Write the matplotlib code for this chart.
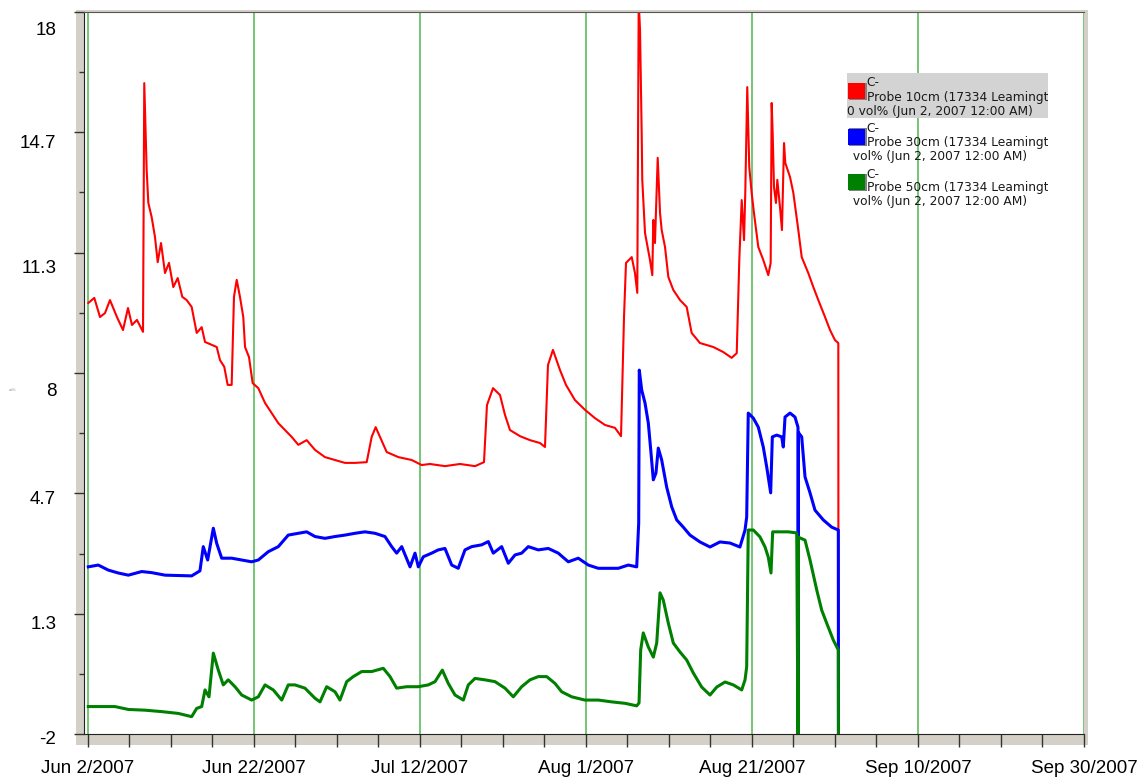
import datetime as dt

import numpy as np
import matplotlib
matplotlib.use("Agg")
import matplotlib.pyplot as plt
from matplotlib.patches import Rectangle
from matplotlib.ticker import FixedLocator, MultipleLocator, FuncFormatter
from matplotlib.transforms import ScaledTranslation, Bbox

START = dt.date(2007, 6, 2)

# x = days since Jun 2 2007 00:00, y = vol%
red_days = [0.04, 0.76, 1.45, 2.05, 2.65, 3.49, 4.22, 4.82, 5.30, 5.90,
            6.63, 6.78, 6.95, 7.07, 7.27, 7.67, 8.07, 8.40, 8.80, 9.28,
            9.76, 10.28, 10.81, 11.36, 11.89, 12.49, 13.10, 13.70, 14.10, 14.90,
            15.51, 15.90, 16.42, 16.83, 17.31, 17.59, 17.92, 18.31, 18.71, 18.92,
            19.40, 19.84, 20.52, 21.33, 22.13, 22.93, 23.73, 24.54, 25.34, 26.35,
            27.35, 28.55, 29.76, 30.96, 32.17, 33.58, 34.18, 34.66, 35.18, 35.99,
            37.39, 39.00, 40.20, 41.20, 43.01, 44.82, 46.63, 47.71, 48.07, 48.80,
            49.64, 50.24, 50.84, 52.05, 53.25, 54.46, 55.06, 55.42, 56.02, 56.87,
            57.59, 58.67, 59.88, 61.08, 62.29, 63.49, 64.22, 64.58, 64.82, 65.51,
            65.90, 66.18, 66.35, 66.51, 66.71, 66.78, 67.11, 67.71, 67.99, 68.11,
            68.31, 68.64, 68.92, 69.12, 69.52, 69.92, 70.52, 71.33, 72.13, 72.73,
            73.73, 75.34, 76.54, 77.55, 78.16, 78.47, 78.76, 79.04, 79.19, 79.43,
            79.60, 79.67, 79.96, 80.24, 80.76, 81.36, 81.96, 82.25, 82.37, 82.49,
            82.65, 82.89, 83.05, 83.37, 83.61, 83.86, 84.01, 84.58, 84.98, 85.58,
            85.99, 86.78, 87.39, 87.99, 88.80, 89.40, 90.00, 90.40, 90.42]
red_vals = [9.94, 10.08, 9.55, 9.66, 10.02, 9.55, 9.19, 9.80, 9.33, 9.47,
            9.14, 16.03, 14.65, 13.62, 12.71, 12.32, 11.77, 11.07, 11.60, 10.77,
            11.05, 10.38, 10.63, 10.11, 10.02, 9.83, 9.11, 9.27, 8.86, 8.78,
            8.72, 8.36, 8.17, 7.67, 7.67, 10.11, 10.58, 10.11, 9.55, 8.72,
            8.44, 7.72, 7.58, 7.17, 6.89, 6.61, 6.42, 6.23, 6.01, 6.14,
            5.87, 5.67, 5.59, 5.51, 5.51, 5.53, 6.23, 6.50, 6.23, 5.81,
            5.67, 5.59, 5.45, 5.48, 5.42, 5.48, 5.42, 5.53, 7.11, 7.58,
            7.39, 6.84, 6.42, 6.25, 6.14, 6.06, 5.95, 8.22, 8.64, 8.08,
            7.67, 7.25, 6.98, 6.75, 6.56, 6.48, 6.25, 9.55, 11.05, 11.21,
            10.77, 10.22, 18.3, 17.50, 14.65, 13.35, 11.88, 11.13, 10.71, 12.24,
            11.60, 13.96, 12.43, 11.96, 11.49, 10.66, 10.30, 10.02, 9.83, 9.11,
            8.83, 8.72, 8.58, 8.42, 8.55, 11.13, 12.79, 11.68, 12.99, 15.92,
            14.37, 13.71, 12.99, 12.43, 11.49, 11.13, 10.71, 11.05, 15.48, 14.65,
            13.15, 12.71, 13.35, 12.60, 11.96, 14.37, 13.82, 13.43, 12.99, 11.96,
            11.21, 10.77, 10.38, 10.02, 9.55, 9.19, 8.91, 8.83, -3.0]

blue_days = [0.04, 1.24, 2.45, 3.65, 4.86, 6.47, 7.67, 9.28, 10.88, 12.49,
             13.49, 13.89, 14.42, 15.10, 15.51, 16.11, 17.31, 18.52, 19.72, 20.52,
             21.72, 22.93, 24.13, 25.34, 26.35, 27.35, 28.55, 29.76, 30.96, 32.17,
             33.37, 34.58, 35.78, 36.59, 37.19, 37.80, 38.80, 39.40, 39.80, 40.40,
             41.41, 42.20, 43.01, 43.82, 44.61, 45.42, 46.23, 47.43, 48.23, 48.83,
             49.84, 50.64, 51.45, 52.25, 53.05, 54.25, 55.46, 56.66, 57.87, 59.07,
             60.28, 61.48, 62.69, 63.89, 65.10, 66.11, 66.35, 66.42, 66.71, 67.11,
             67.51, 67.80, 68.11, 68.43, 68.71, 69.12, 69.72, 70.33, 70.93, 71.72,
             72.53, 73.73, 74.94, 76.14, 77.35, 78.55, 79.16, 79.36, 79.55, 80.16,
             80.76, 81.36, 81.77, 82.25, 82.45, 82.98, 83.58, 83.77, 83.98, 84.58,
             85.18, 85.54, 85.56, 85.60, 85.99, 86.39, 86.99, 87.59, 88.59, 89.60,
             90.40, 90.42]
blue_vals = [2.63, 2.68, 2.54, 2.46, 2.40, 2.50, 2.47, 2.40, 2.39, 2.38,
             2.52, 3.19, 2.82, 3.70, 3.28, 2.87, 2.87, 2.82, 2.77, 2.82,
             3.05, 3.19, 3.51, 3.56, 3.60, 3.47, 3.42, 3.47, 3.51, 3.56,
             3.60, 3.56, 3.47, 3.19, 3.01, 3.19, 2.63, 3.01, 2.63, 2.91,
             3.01, 3.10, 3.14, 2.68, 2.59, 3.10, 3.19, 3.24, 3.33, 3.01,
             3.19, 2.73, 2.96, 3.01, 3.19, 3.10, 3.14, 3.01, 2.77, 2.87,
             2.68, 2.59, 2.59, 2.59, 2.68, 2.63, 3.84, 8.08, 7.53, 7.17,
             6.61, 5.87, 5.04, 5.23, 5.92, 5.59, 4.84, 4.29, 3.93, 3.73,
             3.51, 3.32, 3.18, 3.32, 3.29, 3.18, 3.65, 4.01, 6.89, 6.75,
             6.50, 5.95, 5.40, 4.68, 6.23, 6.28, 6.23, 5.95, 6.78, 6.89,
             6.78, 6.50, -3.0, 6.35, 6.23, 5.12, 4.68, 4.20, 3.93, 3.73,
             3.65, -3.0]

green_days = [0.04, 1.65, 3.25, 4.86, 6.87, 8.88, 10.88, 12.49, 13.10, 13.70,
              14.10, 14.58, 15.10, 15.70, 16.30, 16.90, 17.71, 18.52, 19.72, 20.52,
              21.33, 22.33, 23.34, 24.13, 24.94, 26.14, 27.35, 27.95, 28.76, 29.76,
              30.36, 31.17, 31.96, 32.98, 34.18, 35.58, 36.39, 37.19, 38.40, 39.80,
              41.00, 41.81, 42.69, 43.41, 44.22, 45.22, 45.82, 46.63, 47.83, 49.04,
              50.24, 51.24, 52.25, 53.25, 54.25, 55.27, 56.27, 57.07, 58.28, 59.88,
              61.48, 63.10, 64.70, 66.11, 66.39, 66.59, 66.90, 67.51, 68.11, 68.52,
              68.92, 69.31, 69.92, 70.52, 71.33, 72.13, 72.93, 73.94, 74.94, 75.75,
              76.75, 77.75, 78.76, 79.16, 79.36, 79.55, 80.16, 80.96, 81.57, 81.96,
              82.29, 82.49, 83.37, 84.37, 85.39, 85.56, 85.60, 86.39, 86.99, 87.80,
              88.40, 89.00, 89.80, 90.40, 90.42]
green_vals = [-1.24, -1.24, -1.24, -1.32, -1.34, -1.38, -1.43, -1.52, -1.29, -1.24,
              -0.78, -0.97, 0.24, -0.23, -0.64, -0.50, -0.69, -0.92, -1.06, -0.97,
              -0.64, -0.78, -1.06, -0.64, -0.64, -0.73, -1.01, -1.11, -0.69, -0.83,
              -1.06, -0.55, -0.41, -0.27, -0.27, -0.18, -0.41, -0.73, -0.69, -0.69,
              -0.64, -0.55, -0.23, -0.60, -0.92, -1.06, -0.64, -0.46, -0.50, -0.55,
              -0.73, -0.97, -0.69, -0.50, -0.41, -0.41, -0.60, -0.83, -0.97, -1.06,
              -1.06, -1.11, -1.15, -1.22, -1.14, 0.33, 0.80, 0.41, 0.13, 0.52,
              1.91, 1.71, 1.07, 0.52, 0.27, 0.05, -0.31, -0.70, -0.92, -0.70,
              -0.56, -0.64, -0.78, -0.50, -0.14, 3.65, 3.65, 3.46, 3.18, 2.90,
              2.46, 3.60, 3.60, 3.60, 3.57, -3.0, 3.45, 3.37, 2.82, 1.99,
              1.43, 1.07, 0.60, 0.33, -3.0]

y_ticks = [-2, 4 / 3 - 0.0001, 14 / 3, 8, 34 / 3, 44 / 3, 18]
y_tick_labels = ["-2", "1.3", "4.7", "8", "11.3", "14.7", "18"]
x_major_days = [0, 20, 40, 60, 80, 100, 120]

legend_labels = [
    ("#ff0000", "Probe 10cm (17334 Leamington", "0 vol% (Jun 2, 2007 12:00 AM)"),
    ("#0000ff", "Probe 30cm (17334 Leamington", " vol% (Jun 2, 2007 12:00 AM)"),
    ("#008000", "Probe 50cm (17334 Leamington", " vol% (Jun 2, 2007 12:00 AM)"),
]

W, H = 1144, 778
FRAME = "#d4d0c8"
GRID_GREEN = "#4fb54f"


def fx(px):
    return px / W


def fy(py):
    return 1 - py / H


fig = plt.figure(figsize=(W / 100, H / 100), dpi=100)
plt.rcParams["font.family"] = ["Liberation Sans", "DejaVu Sans"]

# grey frame around the plot
fig.add_artist(Rectangle((fx(76), fy(745)), fx(1088) - fx(76), fy(10) - fy(745),
                         transform=fig.transFigure, facecolor=FRAME,
                         edgecolor="none", zorder=-5))

ax = fig.add_axes([fx(84), fy(734), fx(1084) - fx(84), fy(12) - fy(734)])
ax.set_facecolor("white")

ax.plot(red_days, red_vals, color="#ff0000", lw=1.5)
ax.plot(blue_days, blue_vals, color="#0000ff", lw=2.2)
ax.plot(green_days, green_vals, color="#008000", lw=2.2)

ax.set_xlim(-0.48, 120.0)
ax.set_ylim(-2, 18)

# x axis: dates every 20 days, minor every 5
ax.xaxis.set_major_locator(FixedLocator(x_major_days))
ax.xaxis.set_minor_locator(MultipleLocator(5))


def date_label(d, pos):
    day = START + dt.timedelta(days=int(round(d)))
    return f"{day.strftime('%b')} {day.day}/{day.year}"


ax.xaxis.set_major_formatter(FuncFormatter(date_label))
ax.grid(axis="x", which="major", color=GRID_GREEN, lw=1.1)
ax.set_axisbelow(True)

ax.yaxis.set_major_locator(FixedLocator(y_ticks))
ax.yaxis.set_minor_locator(FixedLocator([(a + b) / 2 for a, b in zip(y_ticks[:-1], y_ticks[1:])]))
ax.set_yticklabels(y_tick_labels)

ax.tick_params(axis="x", which="both", direction="out", length=9, width=1,
               color="#333333", labelsize=13.5, pad=10)
ax.tick_params(axis="y", which="major", direction="out", length=7, width=1,
               color="#333333", labelsize=13.5, pad=13)
ax.tick_params(axis="y", which="minor", direction="out", length=3.5, width=1,
               color="#333333")

# the original places y labels a bit below their ticks
label_drop = [4, 9, 4, 17, 14, 9, 17]
for tick, drop in zip(ax.yaxis.get_major_ticks(), label_drop):
    tick.label1.set_transform(tick.label1.get_transform()
                              + ScaledTranslation(0, -drop / 100, fig.dpi_scale_trans))

for side in ["left", "bottom"]:
    ax.spines[side].set_color("#222222")
ax.spines["top"].set_color("#555555")
ax.spines["right"].set_color(FRAME)

# tiny unit label at far left
fig.text(fx(9), fy(390), "vol%", fontsize=2.5, color="#888888", va="center")

# legend drawn by hand like the logger software
clip = Bbox.from_extents(fx(845) * W, fy(215) * H, fx(1048) * W, fy(70) * H)
fig.add_artist(Rectangle((fx(847), fy(118)), fx(1048) - fx(847), fy(73) - fy(118),
                         transform=fig.transFigure, facecolor="#d3d3d3",
                         edgecolor="none", zorder=3))
for i, (col, line2, line3) in enumerate(legend_labels):
    top = 73 + i * 45.5
    fig.add_artist(Rectangle((fx(849), fy(top + 27)), fx(18), fy(0) - fy(17),
                             transform=fig.transFigure, facecolor="#808080",
                             edgecolor="none", zorder=4))
    fig.add_artist(Rectangle((fx(848), fy(top + 26)), fx(17), fy(0) - fy(16),
                             transform=fig.transFigure, facecolor=col,
                             edgecolor="none", zorder=5))
    rows = [(866, top + 10, "C-"), (867, top + 24, line2),
            (847 if i == 0 else 849, top + 38, line3)]
    for x0, y0, txt in rows:
        t = fig.text(fx(x0), fy(y0), txt, fontsize=8.8, family="DejaVu Sans",
                     color="#1a1a1a", va="center", ha="left", zorder=6)
        t.set_clip_box(clip)
        t.set_clip_on(True)

fig.savefig("out.png", dpi=100)
